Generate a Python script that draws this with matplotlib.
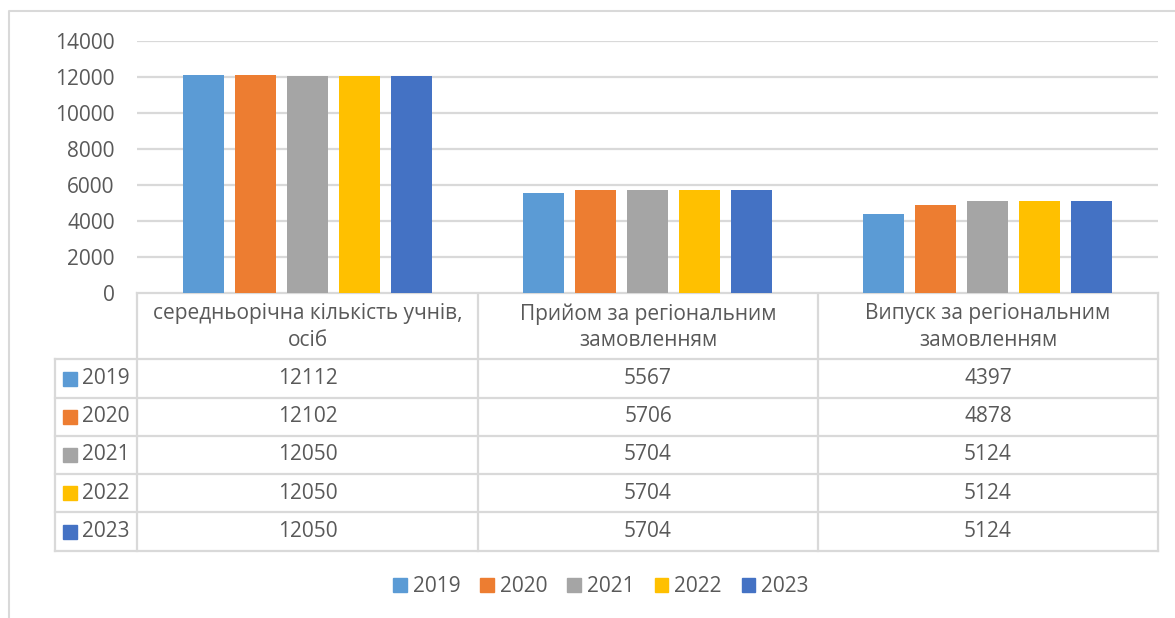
import matplotlib
matplotlib.use("Agg")
import matplotlib.pyplot as plt
from matplotlib.patches import Patch, Rectangle
import numpy as np

# data
categories = ["середньорічна кількість учнів,\nосіб",
              "Прийом за регіональним\nзамовленням",
              "Випуск за регіональним\nзамовленням"]
years = ["2019", "2020", "2021", "2022", "2023"]
v2019 = [12112, 5567, 4397]
v2020 = [12102, 5706, 4878]
v2021 = [12050, 5704, 5124]
v2022 = [12050, 5704, 5124]
v2023 = [12050, 5704, 5124]
series = [v2019, v2020, v2021, v2022, v2023]
colors = ["#5b9bd5", "#ed7d31", "#a5a5a5", "#ffc000", "#4472c4"]

text_col = "#595959"
grid_col = "#d9d9d9"
plt.rcParams['font.family'] = ['Open Sans', 'DejaVu Sans']
fs = 15

W, H = 1175, 618
fig = plt.figure(figsize=(W / 100, H / 100), dpi=100)

# pixel layout
px_left, px_right, px_top, px_bot = 137, 1158, 41, 293
ax = fig.add_axes([px_left / W, 1 - px_bot / H, (px_right - px_left) / W, (px_bot - px_top) / H])

n = len(series)
step = 0.1528
width = 0.1205
x = np.arange(len(categories))
for i, (vals, c) in enumerate(zip(series, colors)):
    ax.bar(x + (i - (n - 1) / 2) * step, vals, width, color=c, zorder=3)

ax.set_xlim(-0.5, len(categories) - 0.5)
ax.set_ylim(0, 14000)
ax.set_yticks(np.arange(0, 14001, 2000))
ax.set_xticks([])
ax.yaxis.grid(True, color=grid_col, linewidth=1.6, zorder=0)
ax.tick_params(axis='y', length=0, labelsize=fs, labelcolor=text_col, pad=16)
for s in ax.spines.values():
    s.set_visible(False)

# overlay in pixel coordinates for the data table and frame
ov = fig.add_axes([0, 0, 1, 1], zorder=-1)
ov.set_xlim(0, W)
ov.set_ylim(H, 0)
ov.axis('off')

# chart frame
ov.plot([9, 9, W + 5], [H + 5, 11, 11], color=grid_col, lw=1.5)

col_edges = [px_left, 478, 818, px_right]
row_edges = [359.3, 397.7, 435.7, 474.3, 512.3, 550.7]
lab_left = 54.5
lw = 1.6

# header block
ov.plot([px_left, px_right], [px_bot, px_bot], color=grid_col, lw=lw)
for xe in col_edges:
    ov.plot([xe, xe], [px_bot, row_edges[-1]], color=grid_col, lw=lw)
for ye in row_edges:
    ov.plot([lab_left, px_right], [ye, ye], color=grid_col, lw=lw)
ov.plot([lab_left, lab_left], [row_edges[0], row_edges[-1]], color=grid_col, lw=lw)

for j, cat in enumerate(categories):
    cx = (col_edges[j] + col_edges[j + 1]) / 2
    ov.text(cx, (px_bot + row_edges[0]) / 2 + 1, cat, ha='center', va='center',
            fontsize=fs, color=text_col, linespacing=1.35)

for i, (yr, vals, c) in enumerate(zip(years, series, colors)):
    cy = (row_edges[i] + row_edges[i + 1]) / 2
    ov.add_patch(Rectangle((63, cy - 7), 14, 14, color=c))
    ov.text(82, cy, yr, ha='left', va='center', fontsize=fs, color=text_col)
    for j, v in enumerate(vals):
        cx = (col_edges[j] + col_edges[j + 1]) / 2
        ov.text(cx, cy, str(v), ha='center', va='center', fontsize=fs, color=text_col)

handles = [Patch(color=c, label=y) for c, y in zip(colors, years)]
leg = fig.legend(handles=handles, loc='center', ncol=5, frameon=False,
                 bbox_to_anchor=(601 / W, 1 - 587 / H), fontsize=fs,
                 handlelength=0.65, handleheight=0.65, handletextpad=0.3,
                 columnspacing=0.95, labelcolor=text_col)

fig.savefig("out.png", dpi=100, facecolor="white")
